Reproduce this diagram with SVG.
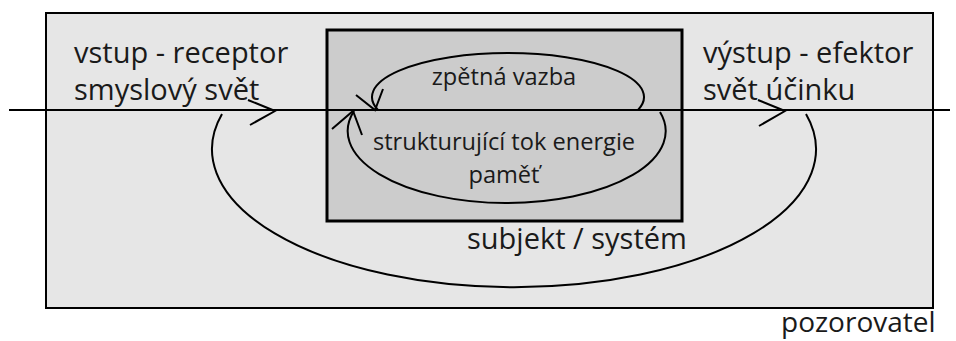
<svg xmlns="http://www.w3.org/2000/svg" width="956" height="341" viewBox="0 0 956 341">
<style>
text{font-family:"Open Sans","Noto Sans","DejaVu Sans",sans-serif;fill:#1a1a1a}
.big{font-size:29px}
.obs{font-size:28px}
.small{font-size:23.6px}
.ln{fill:none;stroke:#000;stroke-width:2;stroke-linecap:butt}
</style>
<rect width="956" height="341" fill="#fff"/>
<g id="observer">
<rect x="46" y="13" width="887" height="295" fill="#e6e6e6" stroke="#000" stroke-width="2"/>
<text class="obs" x="781" y="332">pozorovatel</text>
</g>
<g id="input">
<text class="big" x="74" y="63">vstup - receptor</text>
<text class="big" x="74" y="100">smyslový svět</text>
</g>
<g id="output">
<text class="big" x="703" y="63">výstup - efektor</text>
<text class="big" x="703" y="100">svět účinku</text>
</g>
<g id="subject">
<rect x="327" y="30" width="355" height="191" fill="#cccccc" stroke="#000" stroke-width="3"/>
<text class="big" x="467" y="249">subjekt / systém</text>
</g>
<g id="feedback">
<text class="small" x="504" y="85" text-anchor="middle">zpětná vazba</text>
</g>
<g id="memory">
<text class="small" x="504" y="150" text-anchor="middle">strukturující tok energie</text>
<text class="small" x="504" y="183" text-anchor="middle">paměť</text>
</g>
<g id="connectors">
<line class="ln" x1="9" y1="110" x2="950" y2="110"/>
<polyline class="ln" points="248,100 275,111 250,125"/>
<polyline class="ln" points="758,100 785,111 759,126"/>
<path class="ln" d="M 638 110 A 136 44 0 1 0 378 110"/>
<polyline class="ln" points="356,95 375,110 383,89"/>
<path class="ln" d="M 660 112 A 159 72 0 1 1 354 111"/>
<polyline class="ln" points="332,129 353,111 362,135"/>
<path class="ln" d="M 806 114 A 302 138 0 1 1 222 114"/>
</g>
</svg>
